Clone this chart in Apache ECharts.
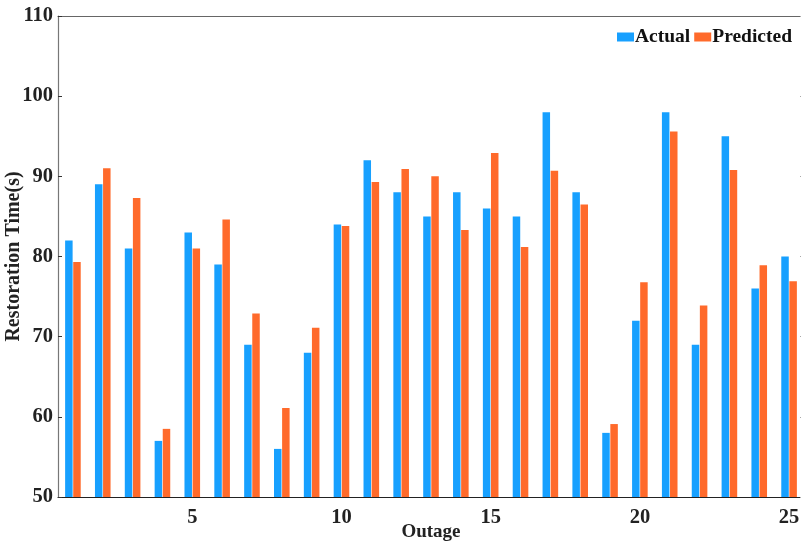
<!DOCTYPE html>
<html>
<head>
<meta charset="utf-8">
<script src="https://cdn.jsdelivr.net/npm/echarts@6/dist/echarts.min.js"></script>
<style>html,body{margin:0;padding:0;background:#fff;}#c{width:801px;height:542px;}</style>
</head>
<body>
<div id="c"></div>
<script>
const outages = ['1','2','3','4','5','6','7','8','9','10','11','12','13','14','15','16','17','18','19','20','21','22','23','24','25'];
const actual = [82, 89, 81, 57, 83, 79, 69, 56, 68, 84, 92, 88, 85, 88, 86, 85, 98, 88, 58, 72, 98, 69, 95, 76, 80];
const predicted = [79.3, 91, 87.3, 58.5, 81, 84.6, 72.9, 61.1, 71.1, 83.8, 89.3, 90.9, 90, 83.3, 92.9, 81.2, 90.7, 86.5, 59.1, 76.8, 95.6, 73.9, 90.8, 78.9, 76.9];
const yTicks = [50, 60, 70, 80, 90, 100, 110];

const FONT = '"Liberation Serif", "Times New Roman", serif';
const showIdx = (i) => (i + 1) % 5 === 0;

const chart = echarts.init(document.getElementById('c'), null, {renderer: 'canvas'});
chart.setOption({
  animation: false,
  backgroundColor: '#fff',
  grid: {left: 58, top: 16, width: 746, height: 481, containLabel: false, outerBoundsMode: 'none'},
  legend: {
    right: 4, top: 22,
    icon: 'rect', itemWidth: 17, itemHeight: 9, itemGap: 4,
    textStyle: {fontFamily: FONT, fontWeight: 'bold', fontSize: 19.5, color: '#111', padding: [0, 0, 0, -4]},
    data: ['Actual', 'Predicted']
  },
  xAxis: [{
    type: 'category', data: outages, position: 'bottom', boundaryGap: true,
    name: 'Outage', nameLocation: 'middle', nameGap: 26, nameMoveOverlap: false,
    nameTextStyle: {fontFamily: FONT, fontWeight: 'bold', fontSize: 19, color: '#222'},
    axisLine: {lineStyle: {color: '#222', width: 1.2}},
    axisTick: {inside: true, length: 3, alignWithLabel: true, interval: showIdx, lineStyle: {color: '#444'}},
    axisLabel: {interval: showIdx, fontFamily: FONT, fontWeight: 'bold', fontSize: 20.5, color: '#222', margin: 10},
    splitLine: {show: false}
  }, {
    type: 'category', data: outages, position: 'top', boundaryGap: true,
    axisLine: {lineStyle: {color: '#666', width: 1.2}},
    axisTick: {inside: true, length: 3, alignWithLabel: true, interval: showIdx, lineStyle: {color: '#888'}},
    axisLabel: {show: false}, splitLine: {show: false}
  }],
  yAxis: [{
    type: 'value', min: yTicks[0], max: yTicks[yTicks.length - 1], interval: 10, position: 'left',
    name: 'Restoration Time(s)', nameLocation: 'middle', nameGap: 34, nameRotate: 90, nameMoveOverlap: false,
    nameTextStyle: {fontFamily: FONT, fontWeight: 'bold', fontSize: 20, color: '#222'},
    axisLine: {show: true, lineStyle: {color: '#777', width: 1.2}},
    axisTick: {show: true, inside: true, length: 4, lineStyle: {color: '#333'}},
    axisLabel: {fontFamily: FONT, fontWeight: 'bold', fontSize: 20.5, color: '#222', margin: 5},
    splitLine: {show: false}
  }, {
    type: 'value', min: yTicks[0], max: yTicks[yTicks.length - 1], interval: 10, position: 'right',
    axisLine: {show: true, lineStyle: {color: '#777', width: 1.2}},
    axisTick: {show: true, inside: true, length: 4, lineStyle: {color: '#aaa'}},
    axisLabel: {show: false}, splitLine: {show: false}
  }],
  series: [{
    name: 'Actual', type: 'bar', data: actual, barWidth: 7.5, barGap: '8%',
    itemStyle: {color: '#17a0ff'}
  }, {
    name: 'Predicted', type: 'bar', data: predicted, barWidth: 7.5, barGap: '8%',
    itemStyle: {color: '#ff6a2b'}
  }]
});
</script>
</body>
</html>
